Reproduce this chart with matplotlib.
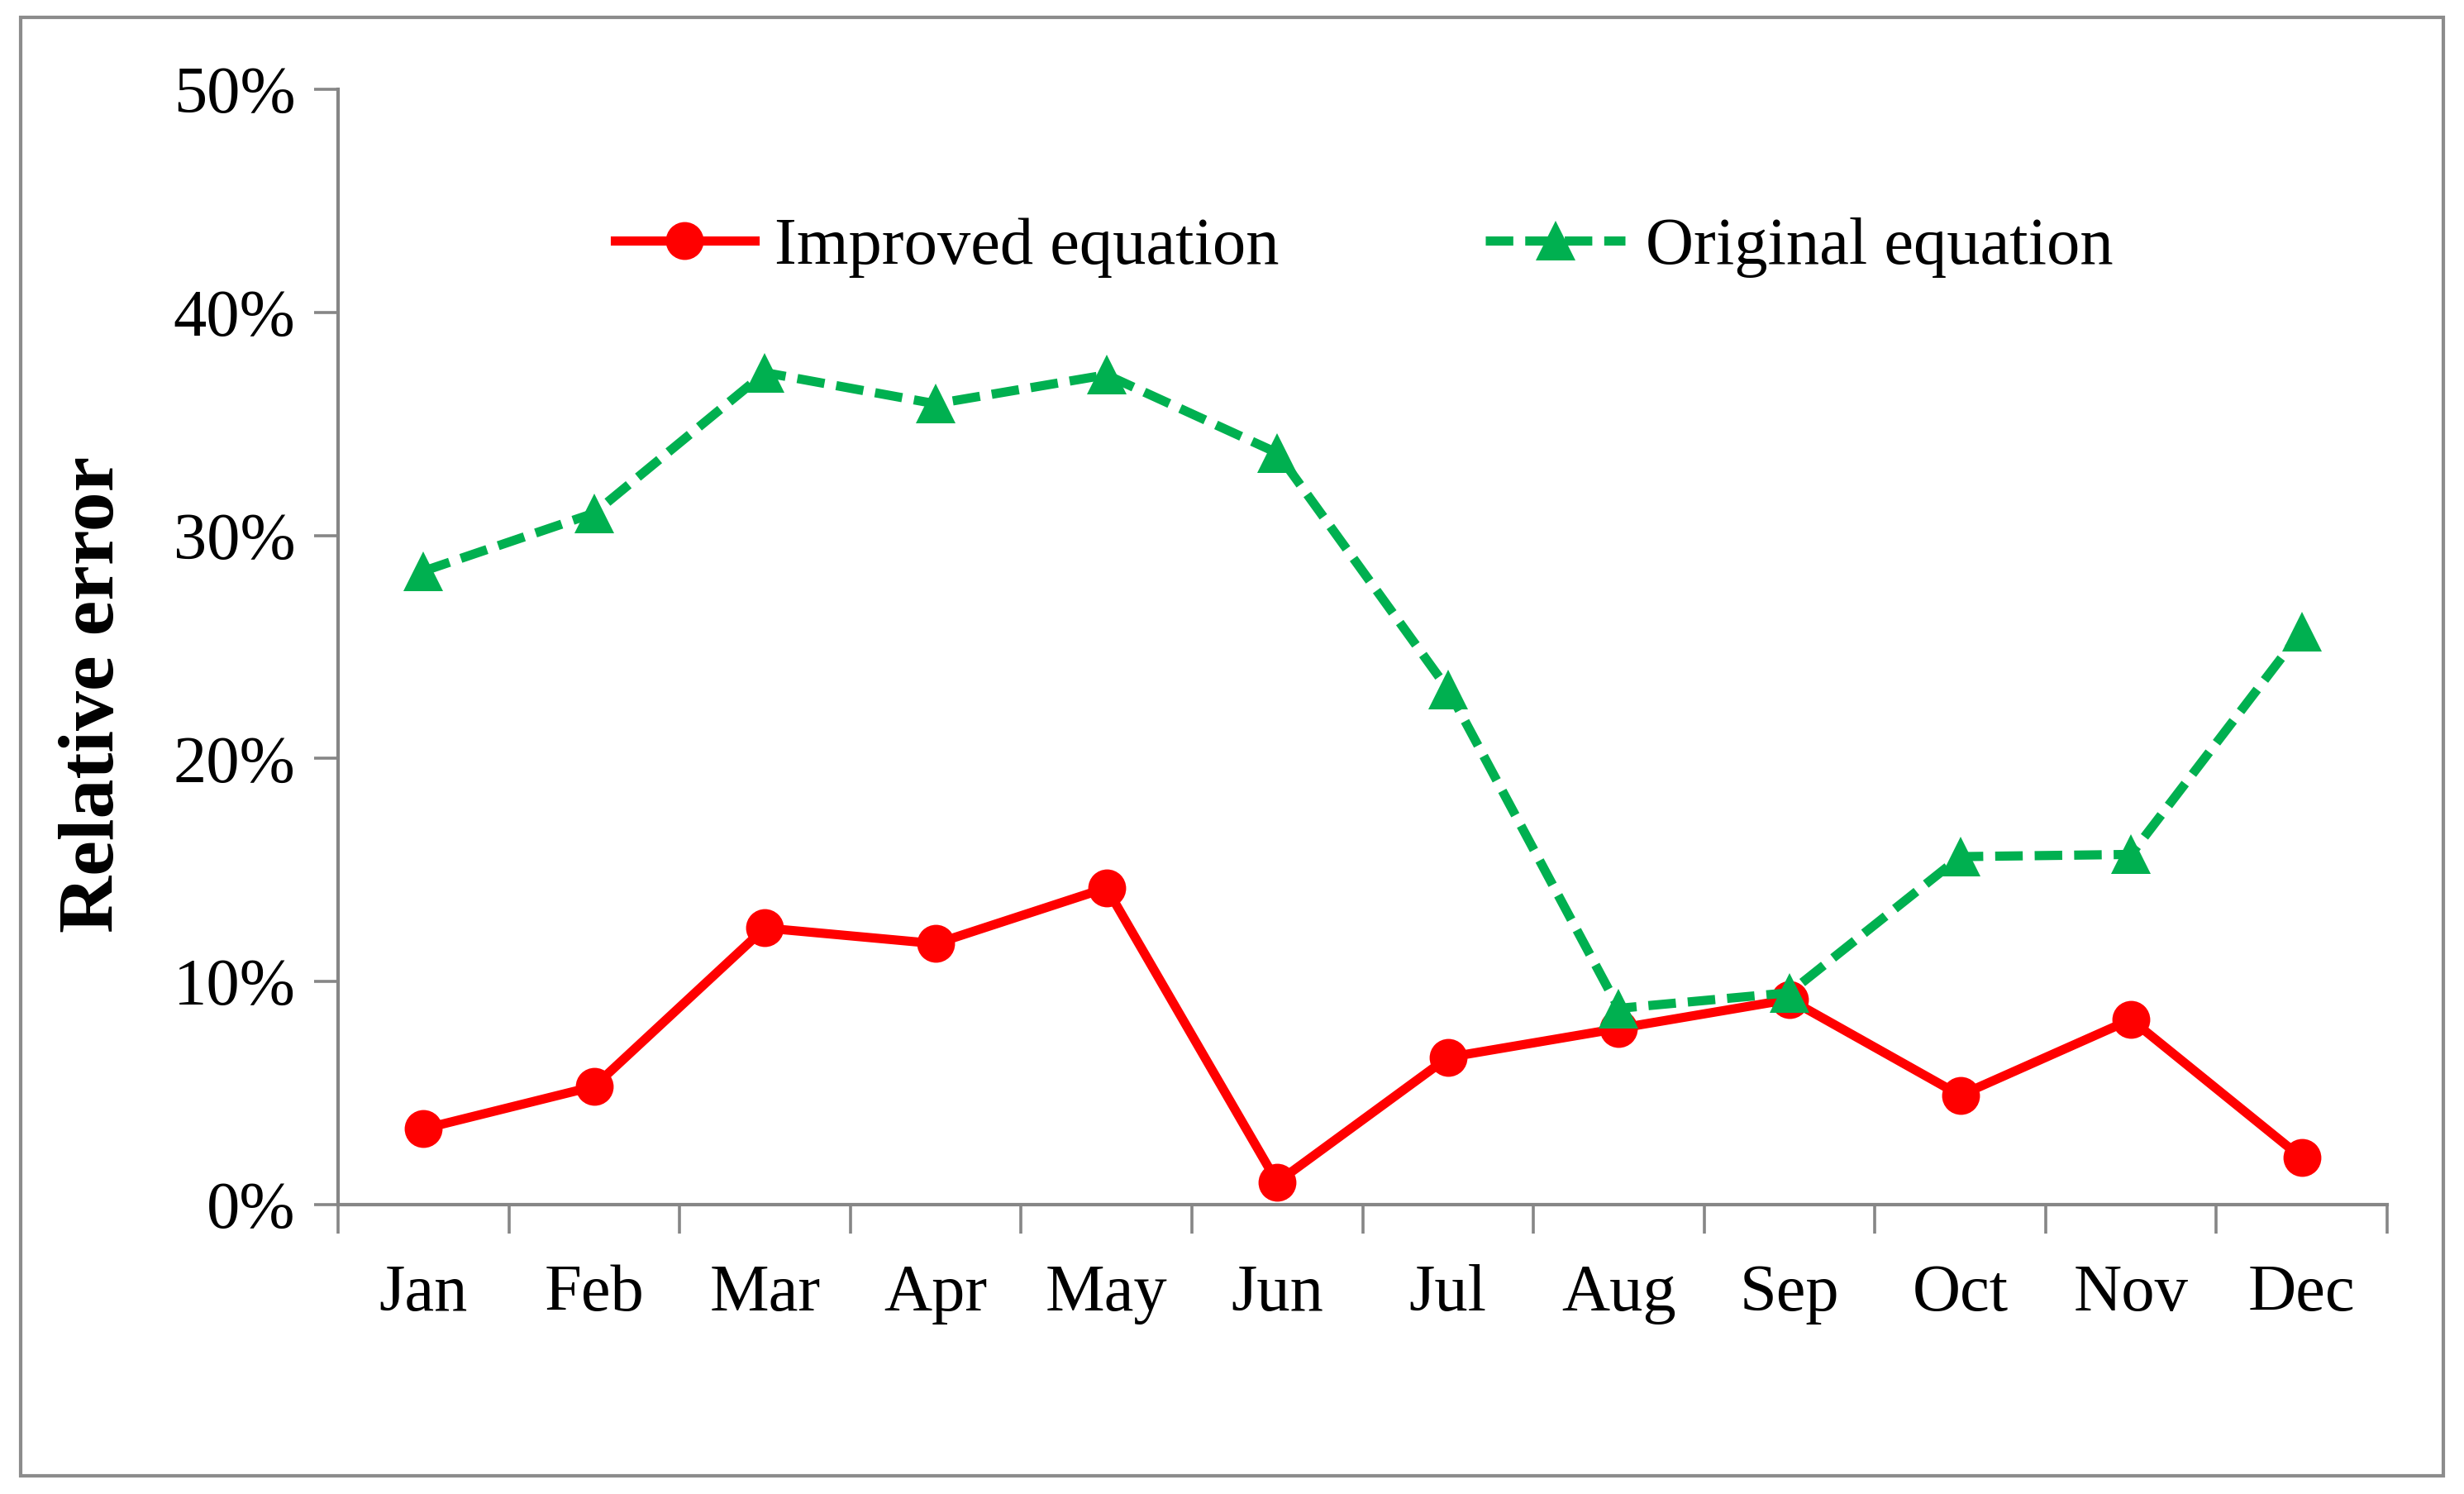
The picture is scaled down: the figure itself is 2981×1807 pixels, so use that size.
import matplotlib
matplotlib.use("Agg")
import matplotlib.pyplot as plt
import numpy as np
from matplotlib.patches import Rectangle

months = ["Jan", "Feb", "Mar", "Apr", "May", "Jun",
          "Jul", "Aug", "Sep", "Oct", "Nov", "Dec"]
improved = [0.034, 0.053, 0.124, 0.117, 0.142, 0.010,
            0.066, 0.079, 0.092, 0.049, 0.083, 0.021]
original = [0.284, 0.310, 0.373, 0.359, 0.372, 0.337,
            0.231, 0.088, 0.095, 0.156, 0.157, 0.257]
yticks = [0.0, 0.1, 0.2, 0.3, 0.4, 0.5]
ytick_labels = ["0%", "10%", "20%", "30%", "40%", "50%"]

plt.rcParams['font.family'] = ['Liberation Serif', 'DejaVu Serif']

W, H = 2981, 1807
fig = plt.figure(figsize=(W / 100, H / 100), dpi=100)
ax = fig.add_axes([409 / W, 1 - 1457 / H, (2888 - 409) / W, (1457 - 108) / H])

grey = "#868686"
x = np.arange(len(months))

ax.plot(x, improved, color="#FF0000", lw=8, marker="o", ms=33,
        mew=0, label="Improved equation", zorder=3)
ax.plot(x, original, color="#00B050", lw=8, ls=(0, (3.0, 1.3)),
        marker="^", ms=35, mew=0, label="Original equation", zorder=4)

ax.set_xlim(-0.5, len(months) - 0.5)
ax.set_ylim(0, 0.5)

ax.set_xticks(x)
ax.set_xticklabels(months)
ax.set_xticks(np.arange(-0.5, len(months)), minor=True)
ax.tick_params(axis="x", which="major", length=0, pad=52, labelsize=58)
ax.tick_params(axis="x", which="minor", length=25, width=2.6, color=grey,
               direction="out")

ax.set_yticks(yticks)
ax.set_yticklabels(ytick_labels)
ax.tick_params(axis="y", length=21, width=2.6, color=grey, pad=16,
               labelsize=58, direction="out")

for s in ["top", "right"]:
    ax.spines[s].set_visible(False)
for s in ["left", "bottom"]:
    ax.spines[s].set_color(grey)
    ax.spines[s].set_linewidth(3)

leg = ax.legend(loc="center", bbox_to_anchor=(0.5006, 0.858), ncol=2,
                frameon=False, fontsize=58, handlelength=2.1,
                handletextpad=0.3, columnspacing=3.1)

fig.text(114 / W, 1 - 840 / H, "Relative error", rotation=90,
         fontsize=69, fontweight="bold", ha="center", va="center")

# outer frame round the whole chart
fig.patches.append(Rectangle((25 / W, 1 - 1785 / H), (2956 - 25) / W,
                             (1785 - 21) / H, transform=fig.transFigure,
                             fill=False, edgecolor="#8c8c8c", lw=3))

fig.savefig("out.png", dpi=100)
